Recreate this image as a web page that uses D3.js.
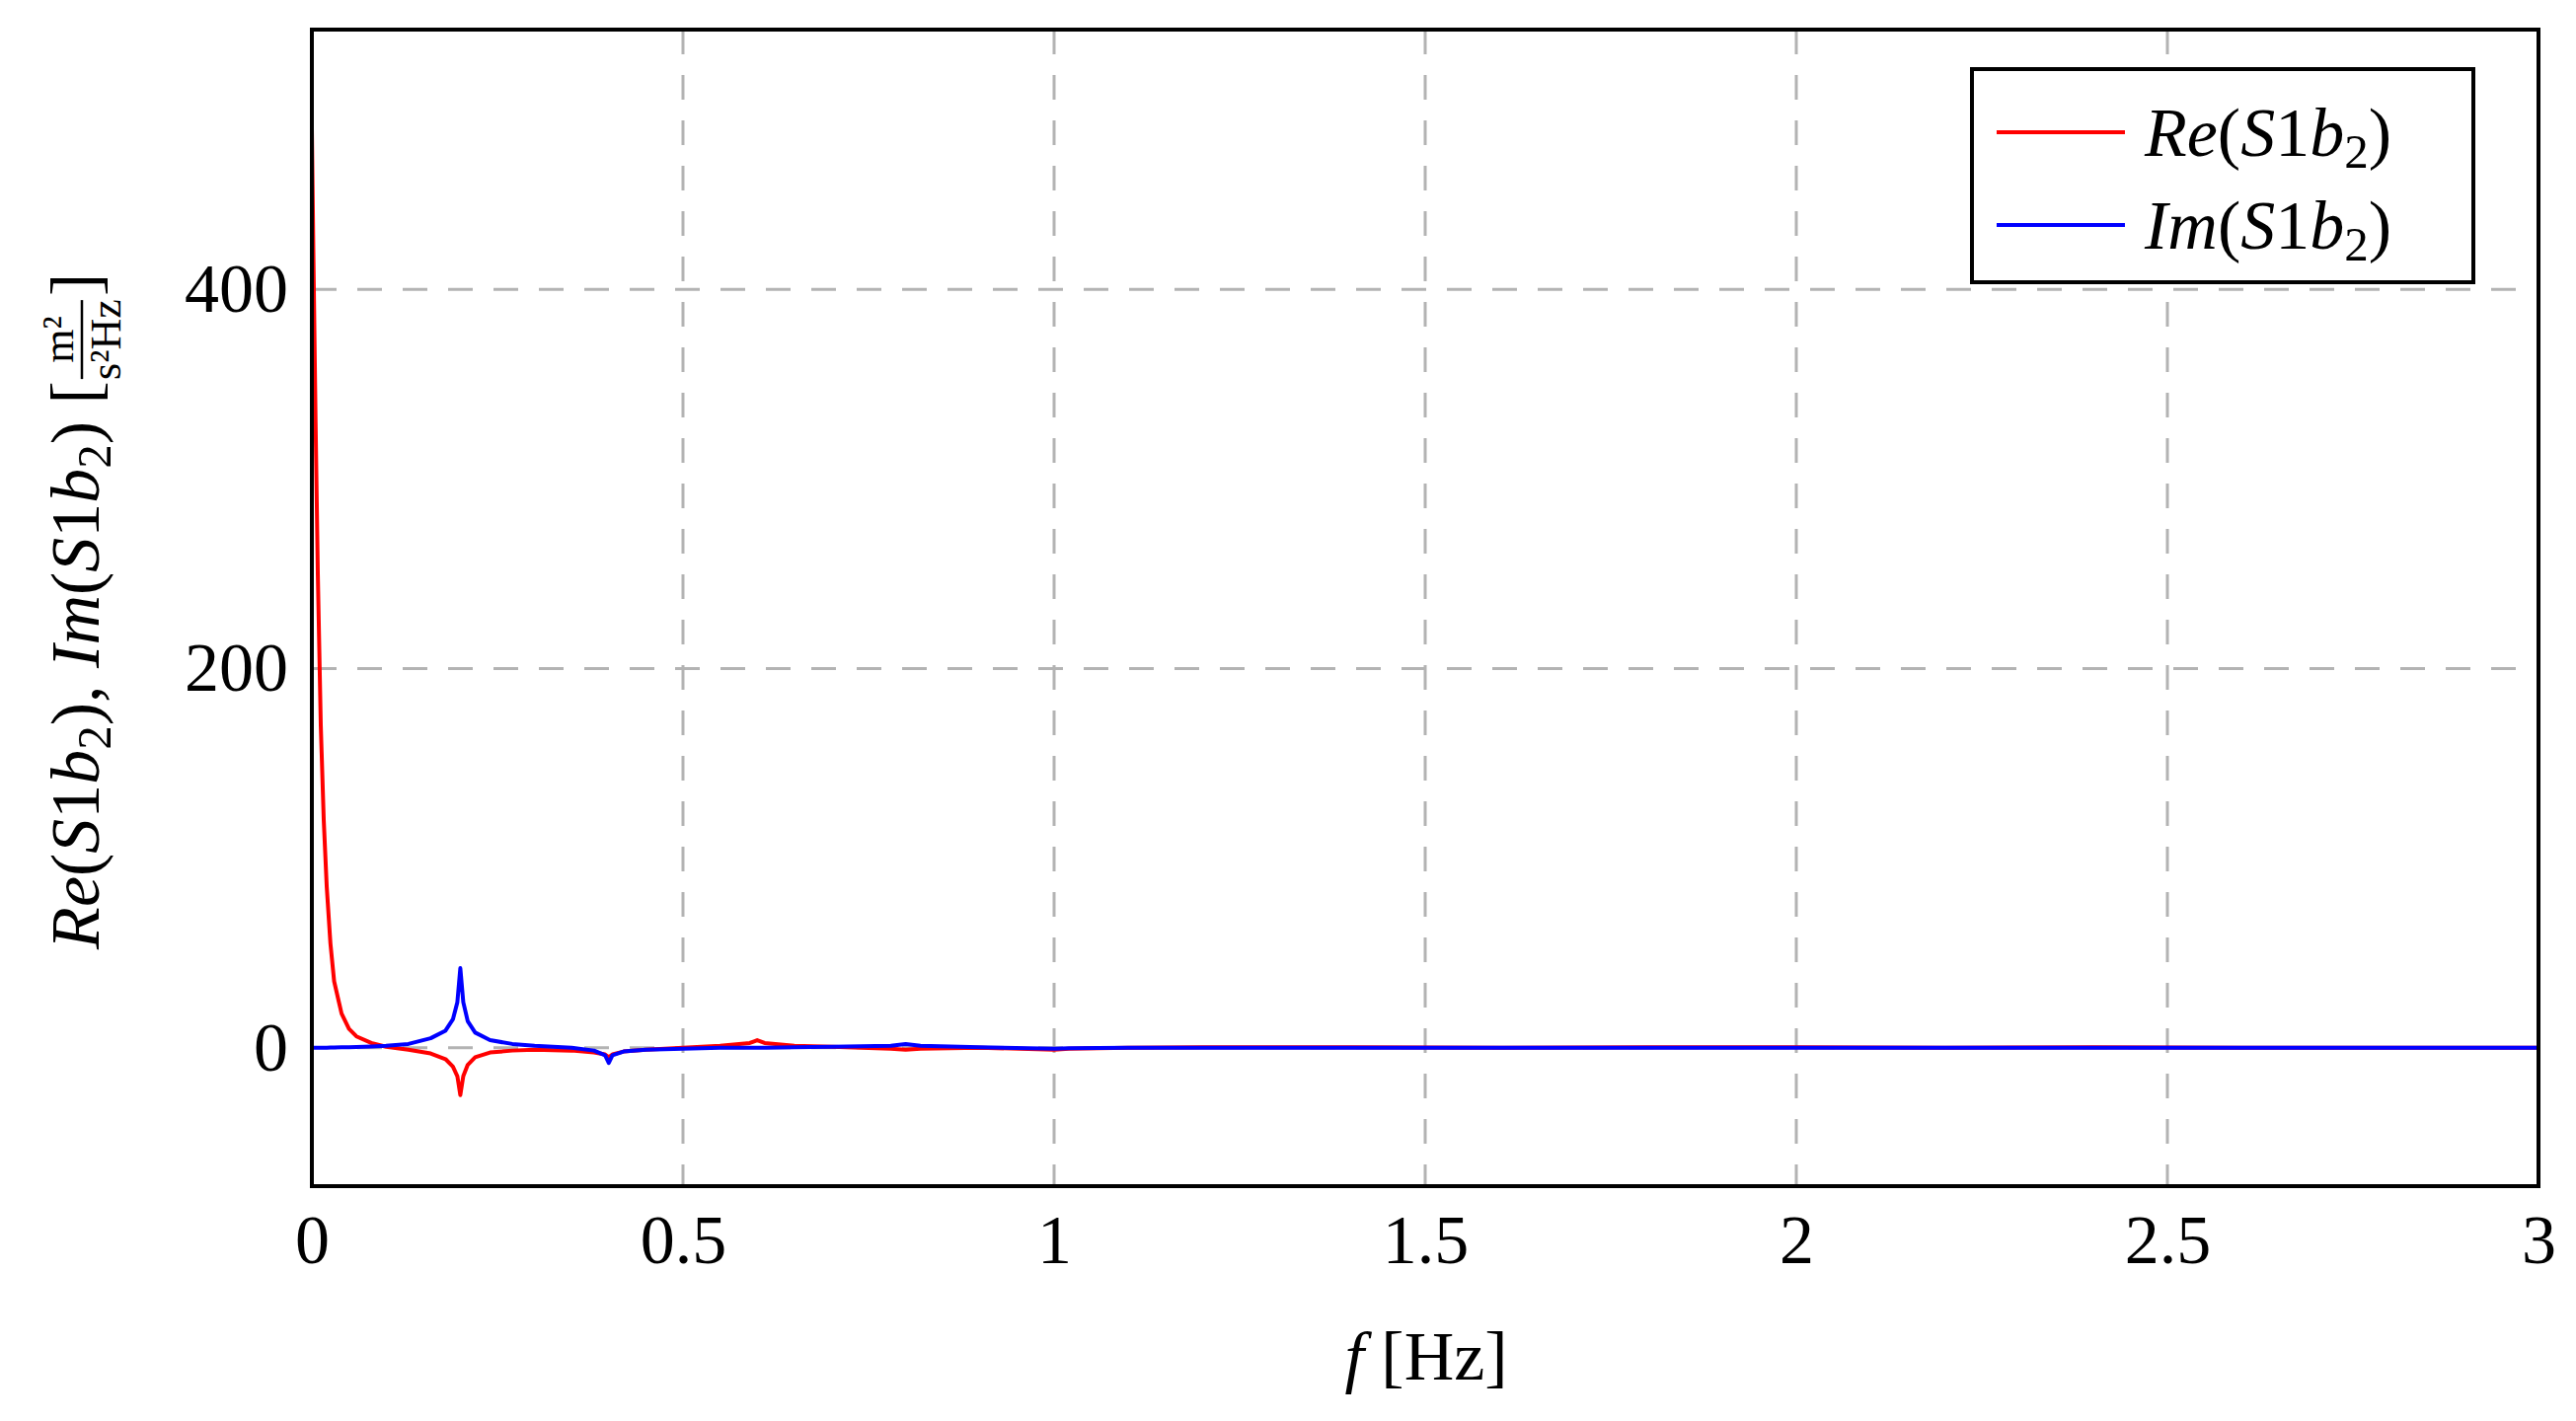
<!DOCTYPE html>
<html><head><meta charset="utf-8">
<script src="https://cdn.jsdelivr.net/npm/d3@7"></script>
<style>body{margin:0;background:#fff}text{font-family:"Liberation Serif","DejaVu Serif",serif}</style>
</head><body><div id="chart"></div>
<script>
// frequency samples [Hz] and read-off values
const freq = [0, 0.002, 0.005, 0.008, 0.012, 0.016, 0.02, 0.025, 0.03, 0.04, 0.05, 0.06, 0.08, 0.1, 0.13, 0.16, 0.18, 0.19, 0.196, 0.2, 0.204, 0.21, 0.22, 0.24, 0.27, 0.3, 0.35, 0.38, 0.395, 0.4, 0.405, 0.42, 0.45, 0.5, 0.55, 0.59, 0.6, 0.61, 0.65, 0.7, 0.78, 0.8, 0.82, 0.9, 1.0, 1.02, 1.1, 1.2, 1.4, 1.6, 1.8, 2.0, 2.2, 2.4, 2.6, 2.8, 3.0];
const reVals = [485, 420, 330, 250, 170, 120, 85, 55, 35, 18, 10, 6, 2.5, 0.5, -1, -3, -6, -10, -15, -25, -15, -9, -5, -2.5, -1.5, -1, -1.5, -2.5, -3.5, -5, -3.5, -2, -1, 0, 1, 2.5, 4, 2.5, 1, 0.5, -0.5, -1, -0.5, 0, -1, -0.5, 0, 0.3, 0.3, 0, 0.2, 0.3, 0, 0.2, 0, 0, 0];
const imVals = [0, 0, 0, 0, 0, 0, 0, 0.1, 0.1, 0.2, 0.3, 0.4, 0.7, 1, 2, 5, 9, 15, 24, 42, 24, 14, 8, 4, 2, 1, 0, -1.5, -4, -8, -4, -2, -1, -0.5, 0, 0, 0, 0, 0.3, 0.5, 1, 2, 1, 0.3, -0.5, -0.3, 0, 0, 0, 0, 0, 0, 0, 0, 0, 0, 0];
const xTicks = [0, 0.5, 1, 1.5, 2, 2.5, 3];
const yTicks = [0, 200, 400];
const series = [
  {name: "Re", values: reVals, color: "#ff0000"},
  {name: "Im", values: imVals, color: "#0000ff"}
];

const W = 2610, H = 1440, FS = 70;
const m = {left: 316, right: 2572, top: 30, bottom: 1202};
const svg = d3.select("#chart").append("svg").attr("width", W).attr("height", H);

const x = d3.scaleLinear().domain([0, 3]).range([m.left, m.right]);
const y = d3.scaleLinear().domain([-73, 537]).range([m.bottom, m.top]);

// grid
const grid = svg.append("g").attr("stroke", "#b3b3b3").attr("stroke-width", 3).attr("stroke-dasharray", "25,21");
grid.selectAll(".gx").data(xTicks.slice(1, -1)).join("line")
  .attr("x1", d => x(d)).attr("x2", d => x(d)).attr("y1", m.top).attr("y2", m.bottom);
grid.selectAll(".gy").data(yTicks).join("line")
  .attr("y1", d => y(d)).attr("y2", d => y(d)).attr("x1", m.left).attr("x2", m.right);

// lines
const line = d3.line().x((d, i) => x(freq[i])).y(d => y(d));
svg.append("g").selectAll("path").data(series).join("path")
  .attr("d", s => line(s.values)).attr("fill", "none")
  .attr("stroke", s => s.color).attr("stroke-width", 4).attr("stroke-linejoin", "round");

// axes
const xAxis = svg.append("g").attr("transform", `translate(0,${m.bottom})`)
  .call(d3.axisBottom(x).tickValues(xTicks).tickSize(0).tickPadding(22).tickFormat(d3.format("")));
const yAxis = svg.append("g").attr("transform", `translate(${m.left},0)`)
  .call(d3.axisLeft(y).tickValues(yTicks).tickSize(0).tickPadding(24));
[xAxis, yAxis].forEach(a => {
  a.select(".domain").remove();
  a.selectAll("text").attr("font-size", FS).attr("fill", "#000");
});
xAxis.selectAll("text").attr("dy", "0.8em");

svg.append("rect").attr("x", m.left).attr("y", m.top)
  .attr("width", m.right - m.left).attr("height", m.bottom - m.top)
  .attr("fill", "none").attr("stroke", "#000").attr("stroke-width", 4);

// x label
const xl = svg.append("text").attr("x", 1445).attr("y", 1398).attr("text-anchor", "middle").attr("font-size", FS);
xl.append("tspan").attr("font-style", "italic").text("f");
xl.append("tspan").text("  [Hz]");

const mathPart = (t, name) => {
  t.append("tspan").attr("font-style", "italic").text(name);
  t.append("tspan").text("(");
  t.append("tspan").attr("font-style", "italic").text("S");
  t.append("tspan").text("1");
  t.append("tspan").attr("font-style", "italic").text("b");
  t.append("tspan").attr("font-size", FS * 0.7).attr("dy", 12).text("2");
  t.append("tspan").attr("dy", -12).text(")");
};

// y label (rotated), laid out left to right then centred
const yl = svg.append("g").attr("transform", "translate(100,620) rotate(-90)");
const inner = yl.append("g");
const yt = inner.append("text").attr("font-size", FS).attr("x", 0);
mathPart(yt, "Re");
yt.append("tspan").text(", ");
mathPart(yt, "Im");
yt.append("tspan").text("  [");
const w0 = yt.node().getComputedTextLength();
const fx = w0 + 42;
inner.append("text").attr("x", fx).attr("y", -26).attr("text-anchor", "middle").attr("font-size", 44).text("m²");
inner.append("line").attr("x1", fx - 40).attr("x2", fx + 40).attr("y1", -17).attr("y2", -17).attr("stroke", "#000").attr("stroke-width", 2.5);
inner.append("text").attr("x", fx).attr("y", 22).attr("text-anchor", "middle").attr("font-size", 44).text("s²Hz");
inner.append("text").attr("x", fx + 44).attr("y", 0).attr("font-size", FS).text("]");
const total = fx + 66;
inner.attr("transform", `translate(${-total / 2},0)`);

// legend
const lg = svg.append("g").attr("transform", "translate(1998,70)");
lg.append("rect").attr("width", 508).attr("height", 216).attr("fill", "#fff").attr("stroke", "#000").attr("stroke-width", 4);
series.forEach((s, i) => {
  const cy = 64 + i * 94;
  lg.append("line").attr("x1", 25).attr("x2", 155).attr("y1", cy).attr("y2", cy).attr("stroke", s.color).attr("stroke-width", 4);
  const t = lg.append("text").attr("x", 175).attr("y", cy + 24).attr("font-size", FS);
  mathPart(t, s.name);
});
</script></body></html>
